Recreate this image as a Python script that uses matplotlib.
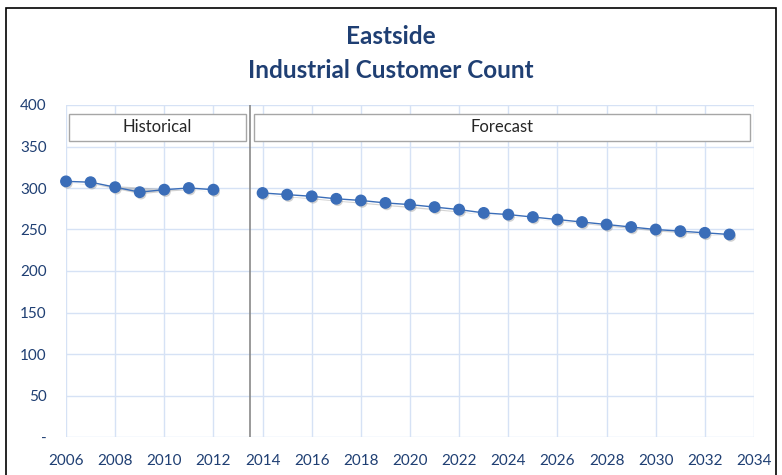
import matplotlib.pyplot as plt
import matplotlib.patheffects as pe
from matplotlib.patches import Rectangle

plt.rcParams["font.family"] = ["Lato", "DejaVu Sans"]

hist_years = list(range(2006, 2013))
hist_counts = [308, 307, 301, 295, 298, 300, 298]

fc_years = list(range(2014, 2034))
fc_counts = [294, 292, 290, 287, 285, 282, 280, 277, 274, 270,
             268, 265, 262, 259, 256, 253, 250, 248, 246, 244]

y_ticks = [0, 50, 100, 150, 200, 250, 300, 350, 400]
y_labels = ["-", "50", "100", "150", "200", "250", "300", "350", "400"]
x_ticks = list(range(2006, 2035, 2))

blue = "#3A6DB8"
navy = "#1F3F73"
grid = "#D6E2F5"

fig = plt.figure(figsize=(7.82, 4.75), dpi=100)
ax = fig.add_axes([66 / 782, 1 - 437 / 475, (754 - 66) / 782, (437 - 105) / 475])

shadow = [pe.SimplePatchShadow(offset=(1, -1.5), shadow_rgbFace="#7f7f7f", alpha=0.35), pe.Normal()]
for xs, ys in [(hist_years, hist_counts), (fc_years, fc_counts)]:
    ax.plot(xs, ys, color=blue, lw=1.0, marker="o", markersize=7.5,
            markerfacecolor=blue, markeredgecolor=blue, path_effects=shadow,
            zorder=4, clip_on=False)

ax.axvline(2013.5, color="#7F7F7F", lw=1.1, zorder=3)

# period labels
ax.add_patch(Rectangle((2006.12, 357), 7.2, 32, facecolor="white", edgecolor="#A6A6A6", lw=1.0, zorder=3))
ax.text(2006.12 + 3.6, 373, "Historical", ha="center", va="center", fontsize=12, color="#262626", zorder=5)
ax.add_patch(Rectangle((2013.67, 357), 20.15, 32, facecolor="white", edgecolor="#A6A6A6", lw=1.0, zorder=3))
ax.text(2013.67 + 10.07, 373, "Forecast", ha="center", va="center", fontsize=12, color="#262626", zorder=5)

ax.set_xlim(2006, 2034)
ax.set_ylim(0, 400)
ax.set_xticks(x_ticks)
ax.set_yticks(y_ticks)
ax.set_yticklabels(y_labels)
ax.grid(True, color=grid, lw=1.0)
ax.set_axisbelow(True)
for s in ax.spines.values():
    s.set_visible(False)
ax.tick_params(length=0, labelsize=11, labelcolor=navy)
ax.tick_params(axis="y", pad=14)
ax.tick_params(axis="x", pad=12)

fig.text(0.5, 1 - 37 / 475, "Eastside", ha="center", va="center", fontsize=17.5, fontweight="bold", color=navy)
fig.text(0.5, 1 - 70 / 475, "Industrial Customer Count", ha="center", va="center", fontsize=17.5, fontweight="bold", color=navy)

fig.patches.append(Rectangle((6 / 782, -0.02), 770 / 782, 1.02 - 8 / 475, transform=fig.transFigure,
                             fill=False, edgecolor="black", lw=1.2))

fig.savefig("out.png", dpi=100)
